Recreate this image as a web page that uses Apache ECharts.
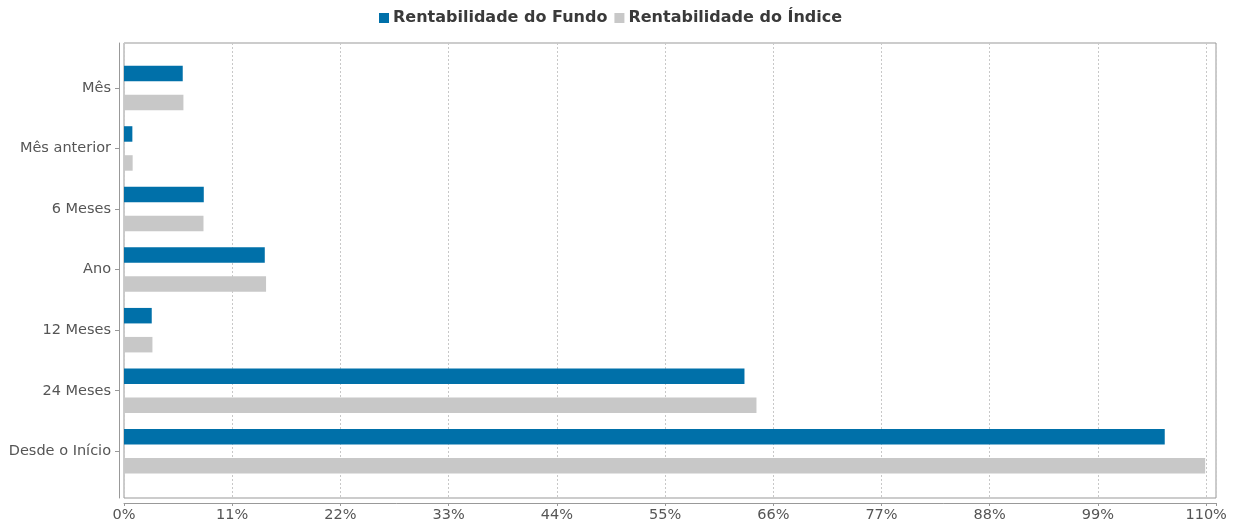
<!DOCTYPE html>
<html>
<head>
<meta charset="utf-8">
<script src="https://cdn.jsdelivr.net/npm/echarts@6/dist/echarts.min.js"></script>
<style>
    html, body { margin: 0; padding: 0; background: #fff; }
    #chart { width: 1242px; height: 525px; }
</style>
</head>
<body>
<div id="chart"></div>
<script>
    // periodos
    var categorias = ['Mês', 'Mês anterior', '6 Meses', 'Ano', '12 Meses', '24 Meses', 'Desde o Início'];
    // rentabilidade em %
    var fundo = [5.97, 0.85, 8.11, 14.31, 2.82, 63.07, 105.79];
    var indice = [6.04, 0.88, 8.08, 14.44, 2.89, 64.29, 109.9];
    var ticksX = [0, 11, 22, 33, 44, 55, 66, 77, 88, 99, 110];

    var nomeFundo = 'Rentabilidade do Fundo';
    var nomeIndice = 'Rentabilidade do Índice';

    var myChart = echarts.init(document.getElementById('chart'));

    var option = {
        animation: false,
        textStyle: { fontFamily: 'DejaVu Sans' },
        legend: {
            left: 374,
            top: 5,
            itemWidth: 10,
            itemHeight: 10,
            itemGap: 7,
            icon: 'rect',
            textStyle: { fontFamily: 'DejaVu Sans', fontWeight: 'bold', fontSize: 16, color: '#3a3a3a', padding: [0, 0, 0, -1] },
            data: [nomeFundo, nomeIndice]
        },
        grid: [
            // moldura
            { left: 124, top: 43, width: 1092, height: 455, show: true, borderColor: '#999', borderWidth: 1 },
            // barras
            { left: 124, top: 57.6, width: 1092, height: 424 }
        ],
        xAxis: [
            {
                gridIndex: 0,
                type: 'value',
                position: 'bottom',
                min: 0,
                max: 111,
                interval: 11,
                offset: 5,
                axisLine: { show: true, onZero: false, lineStyle: { color: '#999' } },
                axisTick: { show: true, length: 3, lineStyle: { color: '#999' } },
                axisLabel: {
                    color: '#555',
                    fontSize: 14.5,
                    margin: 5,
                    formatter: function (v) {
                        return ticksX.indexOf(v) >= 0 ? v + '%' : '';
                    }
                },
                splitLine: { show: true, lineStyle: { color: '#c8c8c8', type: [2, 2] } }
            },
            {
                gridIndex: 1,
                type: 'value',
                min: 0,
                max: 111,
                show: false
            }
        ],
        yAxis: [
            {
                gridIndex: 0,
                type: 'value',
                position: 'left',
                offset: 5,
                axisLine: { show: true, onZero: false, lineStyle: { color: '#999' } },
                axisTick: { show: false },
                axisLabel: { show: false },
                splitLine: { show: false }
            },
            {
                gridIndex: 1,
                type: 'category',
                position: 'left',
                inverse: true,
                data: categorias,
                offset: 5,
                axisLine: { show: false, onZero: false },
                axisTick: { show: true, alignWithLabel: true, length: 4, lineStyle: { color: '#999' } },
                axisLabel: { color: '#555', fontSize: 14.5, margin: 8 }
            }
        ],
        series: [
            {
                name: nomeFundo,
                type: 'bar',
                xAxisIndex: 1,
                yAxisIndex: 1,
                data: fundo,
                barWidth: 15.5,
                barGap: '87%',
                itemStyle: { color: '#0070a9' }
            },
            {
                name: nomeIndice,
                type: 'bar',
                xAxisIndex: 1,
                yAxisIndex: 1,
                data: indice,
                barWidth: 15.5,
                itemStyle: { color: '#c8c8c8' }
            }
        ]
    };

    myChart.setOption(option);
</script>
</body>
</html>
